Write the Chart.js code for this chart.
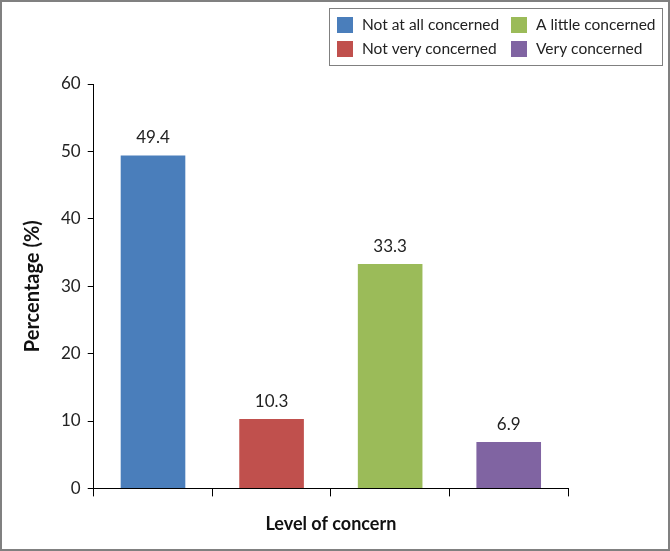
<!DOCTYPE html>
<html>
<head>
<meta charset="utf-8">
<script src="https://cdn.jsdelivr.net/npm/chart.js@4/dist/chart.umd.min.js"></script>
<style>
  html, body { margin: 0; padding: 0; background: #fff; }
  #wrap { width: 670px; height: 551px; position: relative; }
</style>
</head>
<body>
<div id="wrap"><canvas id="chart"></canvas></div>
<script>
const categories = ["Not at all concerned", "Not very concerned", "A little concerned", "Very concerned"];
const values = [49.4, 10.3, 33.3, 6.9];
const colors = ["#4a7ebb", "#c0504d", "#9bbb59", "#8064a2"];
const yTicks = [0, 10, 20, 30, 40, 50, 60];

const FONT = "Lato, 'Liberation Sans', sans-serif";

// outer frame
const framePlugin = {
  id: "frame",
  afterDraw(chart) {
    const ctx = chart.ctx;
    ctx.save();
    ctx.strokeStyle = "#808080";
    ctx.lineWidth = 2;
    ctx.strokeRect(1, 1, chart.width - 2, chart.height - 2);
    ctx.restore();
  }
};

// value labels above each bar
const valueLabels = {
  id: "valueLabels",
  afterDatasetsDraw(chart) {
    const ctx = chart.ctx;
    const meta = chart.getDatasetMeta(0);
    ctx.save();
    ctx.font = "17px " + FONT;
    ctx.fillStyle = "#222";
    ctx.textAlign = "center";
    ctx.textBaseline = "bottom";
    meta.data.forEach((bar, i) => {
      ctx.fillText(values[i].toFixed(1), bar.x, bar.y - 9);
    });
    ctx.restore();
  }
};

// 2x2 boxed legend in the top right corner
const boxLegend = {
  id: "boxLegend",
  afterDraw(chart) {
    const ctx = chart.ctx;
    const order = [0, 2, 1, 3];
    const x0 = 329, y0 = 8, w = 333, h = 57;
    ctx.save();
    ctx.strokeStyle = "#808080";
    ctx.lineWidth = 1;
    ctx.strokeRect(x0 + 0.5, y0 + 0.5, w, h);
    ctx.font = "15.5px " + FONT;
    ctx.textBaseline = "middle";
    order.forEach((idx, k) => {
      const col = k % 2, row = Math.floor(k / 2);
      const sx = col === 0 ? 337 : 511;
      const cy = row === 0 ? 25 : 49;
      ctx.fillStyle = colors[idx];
      ctx.fillRect(sx, cy - 8, 16, 16);
      ctx.fillStyle = "#222";
      ctx.fillText(categories[idx], sx + 25, cy);
    });
    ctx.restore();
  }
};

new Chart(document.getElementById("chart"), {
  type: "bar",
  data: {
    labels: categories,
    datasets: [
      {
        data: values,
        backgroundColor: colors,
        borderWidth: 0,
        barPercentage: 0.545,
        categoryPercentage: 1.0,
      },
    ],
  },
  options: {
    responsive: true,
    maintainAspectRatio: false,
    animation: false,
    layout: { padding: { top: 84, right: 102, bottom: 16, left: 16 } },
    plugins: {
      legend: { display: false },
      tooltip: { enabled: false },
    },
    scales: {
      x: {
        grid: {
          offset: true,
          drawOnChartArea: false,
          drawTicks: true,
          tickLength: 8,
          color: "#000",
        },
        border: { display: true, color: "#000", width: 1 },
        ticks: { display: false },
        title: {
          display: true,
          text: "Level of concern",
          font: { family: FONT, size: 18, weight: "bold" },
          color: "#111",
          padding: { top: 17, bottom: 0 },
        },
      },
      y: {
        min: 0,
        max: 60,
        afterBuildTicks(scale) {
          scale.ticks = yTicks.map(v => ({ value: v }));
        },
        grid: {
          drawOnChartArea: false,
          drawTicks: true,
          tickLength: 6,
          color: "#000",
        },
        border: { display: true, color: "#000", width: 1 },
        ticks: {
          font: { family: FONT, size: 17 },
          color: "#222",
          padding: 7,
        },
        title: {
          display: true,
          text: "Percentage (%)",
          font: { family: FONT, size: 20, weight: "bold" },
          color: "#111",
          padding: { top: 5, bottom: 9 },
        },
      },
    },
  },
  plugins: [framePlugin, valueLabels, boxLegend],
});
</script>
</body>
</html>
